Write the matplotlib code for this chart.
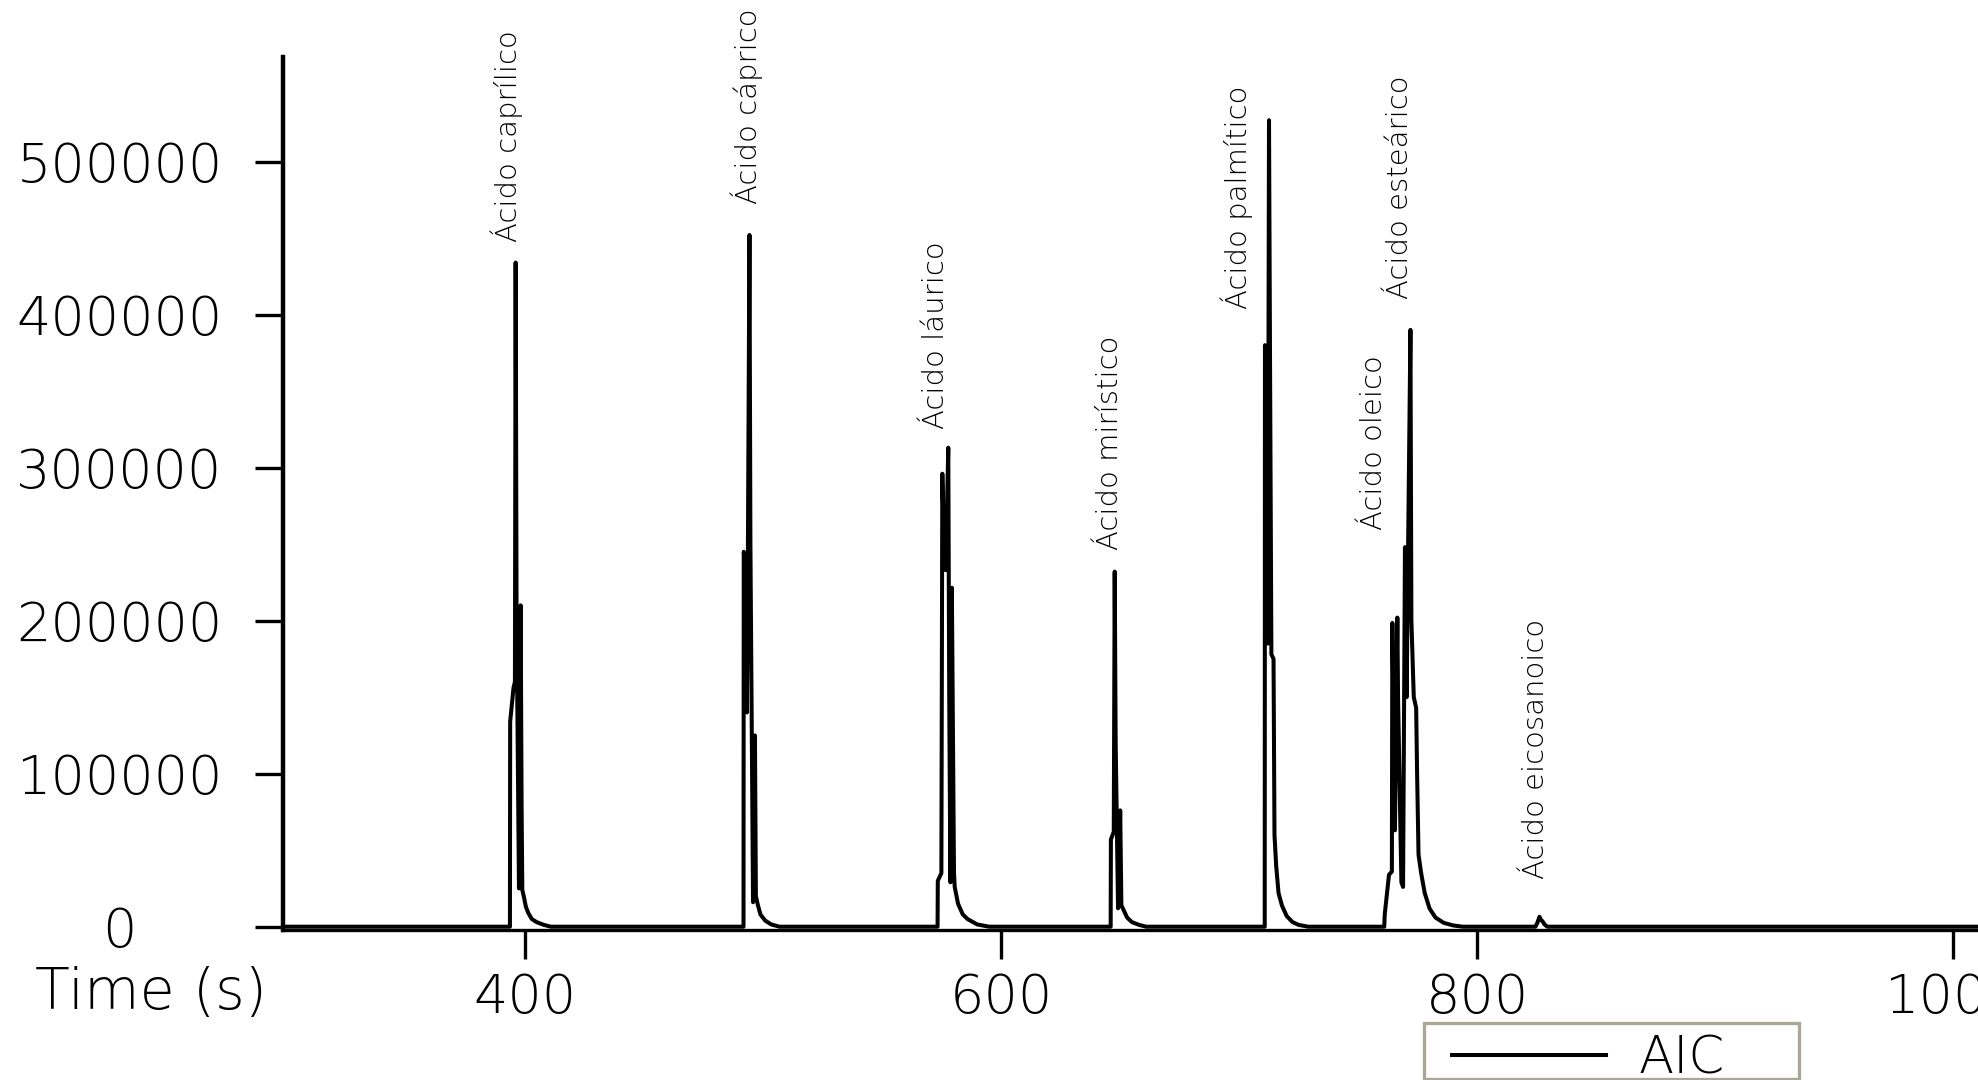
import matplotlib
matplotlib.use("Agg")
import matplotlib.pyplot as plt
from matplotlib.patches import Rectangle

# chromatogram trace (time in s, abundance), one block per peak
caprilico_t = [393.8, 393.9, 395.3, 395.9, 396.2, 396.6, 397.6, 398.0, 398.3,
               398.7, 399.0, 399.6, 400.5, 401.5, 403.0, 405.0, 408.0, 411.0]
caprilico_y = [0, 134000, 156000, 160000, 434000, 200000, 25000, 40000, 210000,
               80000, 24000, 20000, 13000, 9000, 5000, 3000, 1200, 0]

caprico_t = [491.9, 492.0, 492.5, 493.3, 493.6, 494.4, 494.8, 495.9, 496.4,
             496.7, 497.1, 497.8, 499.0, 501.0, 503.5, 507.0]
caprico_y = [0, 245000, 240000, 140000, 200000, 452000, 250000, 16000, 22000,
             125000, 20000, 15000, 8000, 4000, 1500, 0]

laurico_t = [573.4, 573.5, 575.0, 575.4, 575.6, 576.8, 577.9, 578.3, 578.8,
             579.4, 580.3, 580.6, 582.0, 584.0, 586.0, 590.0, 595.0]
laurico_y = [0, 30000, 35000, 296000, 280000, 233000, 313000, 150000, 29000,
             221500, 35000, 26000, 15000, 8000, 5000, 1500, 0]

miristico_t = [646.1, 646.2, 647.4, 647.8, 648.2, 649.2, 649.6, 650.1, 650.6,
               651.5, 653.0, 655.0, 658.0, 661.0]
miristico_y = [0, 57000, 62000, 232000, 120000, 12000, 20000, 76000, 14000,
               11000, 6000, 3000, 1200, 0]

palmitico_t = [710.8, 710.9, 711.5, 712.1, 712.6, 713.0, 713.6, 714.5, 714.9,
               715.6, 716.6, 718.0, 720.0, 722.5, 725.0, 729.0]
palmitico_y = [0, 380000, 330000, 185000, 527000, 380000, 178000, 175000, 60000,
               40000, 22000, 14000, 7000, 3000, 1200, 0]

oleico_estearico_t = [761.0, 761.2, 763.0, 764.2, 764.4, 765.5, 766.5, 766.8,
                      768.2, 768.9, 769.7, 770.4, 771.0, 772.0, 772.4, 773.4,
                      774.4, 774.8, 775.4, 776.5, 778.0, 780.0, 782.5, 786.0,
                      790.0, 794.0]
oleico_estearico_y = [0, 8000, 34000, 36000, 198500, 63000, 202000, 150000,
                      29000, 26000, 248000, 150000, 245000, 390000, 200000,
                      150000, 143000, 100000, 47000, 35000, 22000, 12000, 6000,
                      2500, 800, 0]

eicosanoico_t = [824.5, 825.3, 826.2, 826.8, 827.5, 828.3, 829.5]
eicosanoico_y = [0, 2500, 6500, 4500, 3500, 1500, 0]

peak_names = ["Ácido caprílico", "Ácido cáprico", "Ácido láurico",
              "Ácido mirístico", "Ácido palmítico", "Ácido oleico",
              "Ácido esteárico", "Ácido eicosanoico"]
label_t = [392.6, 493.3, 572.7, 645.9, 698.9, 756.6, 767.7, 824.9]
label_y = [447300, 472000, 325300, 246100, 403600, 259300, 410200, 31000]

x_ticks = [400, 600, 800, 1000]
y_ticks = [0, 100000, 200000, 300000, 400000, 500000]

plt.rcParams["font.family"] = ["DejaVu Sans"]
plt.rcParams["font.weight"] = 200
plt.rcParams["axes.labelweight"] = 200


def build_trace():
    """Join the peak blocks on a flat baseline."""
    t = [300.0]
    y = [0]
    for pt, py in [(caprilico_t, caprilico_y), (caprico_t, caprico_y),
                   (laurico_t, laurico_y), (miristico_t, miristico_y),
                   (palmitico_t, palmitico_y),
                   (oleico_estearico_t, oleico_estearico_y),
                   (eicosanoico_t, eicosanoico_y)]:
        t += pt
        y += py
    t.append(1100.0)
    y.append(0)
    return t, y


def main():
    t, y = build_trace()

    fig = plt.figure(figsize=(19.78, 10.80), dpi=100)
    ax = fig.add_axes([0.1432, 0.1389, 0.9647, 0.8086])

    ax.plot(t, y, color="black", lw=2.9, solid_joinstyle="round",
            label="AIC")

    ax.set_xlim(298.6, 1100)
    ax.set_ylim(-2150, 568500)
    ax.set_xticks(x_ticks)
    ax.set_yticks(y_ticks)
    ax.set_yticklabels([str(v) for v in y_ticks])

    for side in ("top", "right"):
        ax.spines[side].set_visible(False)
    ax.spines["left"].set_linewidth(3.2)
    ax.spines["bottom"].set_linewidth(2.4)

    ax.tick_params(axis="x", direction="out", length=21, width=2.4, pad=9,
                   labelsize=39)
    ax.tick_params(axis="y", direction="out", length=20, width=2.4, pad=98,
                   labelsize=39)
    for lbl in ax.get_yticklabels():
        lbl.set_ha("center")

    ax.set_xlabel("Time (s)", fontsize=41, fontweight=200)
    ax.xaxis.set_label_coords(-0.0693, -0.0721)
    ax.xaxis.label.set_va("center")

    for name, lt, ly in zip(peak_names, label_t, label_y):
        ax.text(lt, ly, name, rotation=90, ha="center", va="bottom",
                fontsize=21)

    fig.legend(loc="upper left", bbox_to_anchor=(1452 / 1978, 1 - 1034 / 1080),
               borderpad=0, borderaxespad=0, frameon=False, fontsize=37,
               handlelength=3.0, handletextpad=0.62)
    fig.patches.append(Rectangle((1424 / 1978, 1.5 / 1080),
                                 375 / 1978, 55.5 / 1080,
                                 transform=fig.transFigure, fill=False,
                                 edgecolor="#aba798", lw=2.4))

    fig.savefig("out.png", dpi=100)
    plt.close(fig)


if __name__ == "__main__":
    main()
